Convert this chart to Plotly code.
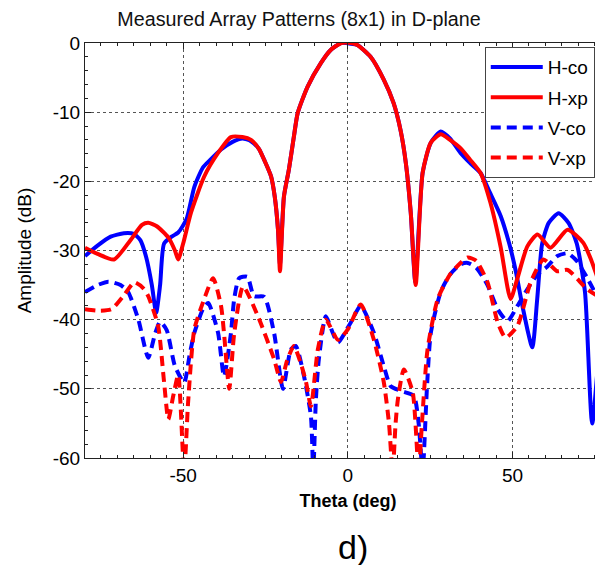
import plotly.graph_objects as go

# ---------------- data ----------------
theta_hco = [-79.8, -76, -72, -68, -65, -63, -61.2, -59.5, -58.2, -57, -55.8, -53.5, -51.5, -49,
             -46.6, -44, -42, -38.5, -35, -32, -29.4, -27, -25.4, -23.3, -22.2, -21.2, -20.6,
             -19.4, -17.9, -16.4, -15.2, -12.2, -8.2, -5.2, -2, 1, 2.9, 6.9, 10.9, 13.9, 16,
             17.6, 19.1, 20.5, 22.7, 25.2, 28.2, 31, 34.2, 37, 40.3, 43, 46.4, 49, 51, 53, 56,
             57.5, 59, 61, 64, 67, 69.5, 72, 74.2, 77.4, 80]
amp_hco = [-30.8, -29.3, -28, -27.5, -27.6, -28.5, -31, -35, -39, -35, -29, -28, -27.4, -25.5,
           -20.8, -18, -17, -15.4, -14.3, -13.8, -14.2, -15.3, -16.9, -19.3, -22.2, -27, -32,
           -22.2, -18.3, -13.6, -10.1, -6.3, -2.9, -1, 0, -0.1, -0.3, -2, -5.3, -8.7, -12.6,
           -17.3, -24.5, -34.6, -18.8, -14.4, -12.8, -13.8, -15.9, -17.3, -18.8, -21.5, -25,
           -29, -33, -38, -44, -37, -29, -26, -24.6, -26, -29, -36, -55, -40, -37]

theta_hxp = [-79.8, -76, -71, -66, -62.5, -60.6, -58, -54.5, -52.5, -51.5, -50, -47.6, -43.6,
             -39.4, -35.5, -32, -29.4, -27, -25.4, -23.3, -22.2, -21.2, -20.6, -19.4, -17.9,
             -16.4, -15.2, -12.2, -8.2, -5.2, -2, 1, 2.9, 6.9, 10.9, 13.9, 16, 17.6, 19.1, 20.6,
             22.7, 25.2, 28.2, 31, 34.2, 37, 40.3, 43.3, 46.4, 49.4, 51.5, 54.5, 57.6, 61.5,
             66.7, 71.5, 74, 77.4, 80]
amp_hxp = [-29.6, -30.5, -31.3, -28.5, -26.3, -26, -26.5, -28.1, -30, -31.3, -29, -24.5, -19.3,
           -15.9, -13.6, -13.6, -14, -15.3, -16.9, -19.3, -22.2, -27, -33, -22.2, -18.3, -13.6,
           -10.1, -6.3, -2.9, -1, 0, 0, -0.3, -2, -5.3, -8.7, -12.6, -17.3, -24.5, -35, -18.8,
           -14.4, -13.2, -14, -15.2, -16.8, -18.8, -23.1, -29.5, -37, -34, -29.4, -27.7, -29.6,
           -27, -28.9, -31.5, -36, -38]

theta_vco = [-79.8, -76, -72.7, -69, -66.7, -63.6, -60.6, -58.5, -57, -55, -52.5, -49.7, -48,
             -46.6, -44, -42.4, -39.4, -37.6, -35.5, -34.5, -33, -30.5, -28.5, -25.4, -22.4,
             -19.7, -17.3, -15.8, -13.3, -11.2, -10.5, -9.7, -8.8, -6.7, -4.5, -3, 0.9, 3.9,
             7.9, 10.9, 13, 16.1, 20, 21.5, 22.7, 24, 25.2, 28.2, 31, 34.2, 36.4, 39, 42.4, 45.5,
             48.5, 51.5, 54.5, 57.5, 60.6, 63.6, 66.7, 69.5, 72.7, 77.4, 80]
amp_vco = [-36, -35, -34.5, -35, -36, -40, -45.5, -42, -40.3, -41.5, -46.7, -49.1, -45, -41.9,
           -38.5, -37.6, -41.9, -48.2, -42, -37, -34, -33.8, -36.6, -36.7, -41.9, -50, -44.3,
           -43.8, -48.2, -54, -62, -51.5, -45.7, -39.5, -42, -43.3, -40.4, -38, -41.9, -46.7,
           -49.6, -50.3, -51, -55, -62, -50, -41.9, -36, -33.5, -32, -31.8, -32.5, -35, -38.5,
           -40.2, -38, -35.6, -33.5, -32.3, -30.8, -30.4, -31.5, -34, -38, -39]

theta_vxp = [-79.8, -76, -71.8, -68, -64.8, -62, -60.6, -57.6, -55.8, -54.5, -53, -51.5, -49.7,
             -48.5, -46.6, -43.6, -40.9, -38.5, -37.6, -36, -34.5, -31.8, -27.3, -22.4, -20.3,
             -18.5, -16.4, -14.5, -12.7, -11.2, -9.1, -6.7, -3, 0, 3.9, 7.9, 10.9, 12.5, 13.6,
             14.5, 15.2, 17, 19.7, 21.5, 22.5, 24.2, 27.3, 31, 34.2, 36.4, 39, 42.4, 45.5, 47.9,
             51.5, 55.5, 59.4, 63.6, 66.7, 72.7, 77.4, 80]
amp_vxp = [-38.5, -38.7, -38.5, -36.5, -34.6, -35.5, -36.6, -40.9, -49, -54.4, -51, -48, -62,
           -52, -41.4, -37, -34, -38, -41.9, -50, -42, -35.2, -39.5, -45.7, -49, -46, -43.8, -46,
           -49, -52.5, -44.3, -40, -42.9, -41.4, -37.8, -42.9, -49, -55, -62, -55, -51.5, -47.2,
           -50.5, -62, -55, -44.3, -37, -33.5, -31.8, -31, -31.5, -34.6, -40.4, -42.6, -40.9,
           -34.6, -31.3, -33, -32.8, -35.6, -37, -37.5]

series_names = ["H-co", "H-xp", "V-co", "V-xp"]
x_tick_vals = [-50, 0, 50]
y_tick_vals = [0, -10, -20, -30, -40, -50, -60]

# ---------------- figure ----------------
FONT = "Liberation Sans, Arial, Helvetica, sans-serif"
BLUE = "#0000FF"
RED = "#FF0000"
DASH = "10px,6px"

fig = go.Figure()
specs = [
    (theta_hco, amp_hco, series_names[0], BLUE, "solid"),
    (theta_hxp, amp_hxp, series_names[1], RED, "solid"),
    (theta_vco, amp_vco, series_names[2], BLUE, DASH),
    (theta_vxp, amp_vxp, series_names[3], RED, DASH),
]
for i, (tx, ay, nm, col, dash) in enumerate(specs):
    fig.add_trace(go.Scatter(
        x=tx, y=ay, name=nm, mode="lines", legendgroup=f"g{i}",
        line=dict(color=col, width=4, dash=dash, shape="spline", smoothing=0.6),
    ))

# page has an 8px body margin: figure is offset by (8, 8)
fig.update_layout(
    width=603, height=565,
    margin=dict(l=77, r=0, t=35, b=115),
    paper_bgcolor="white", plot_bgcolor="white",
    font=dict(family=FONT, size=19, color="black"),
    title=dict(text="Measured Array Patterns (8x1) in D-plane",
               x=291 / 603, xanchor="center", y=1 - 11 / 565, yanchor="middle",
               font=dict(size=19.7, family=FONT, color="#111")),
    showlegend=True,
    legend=dict(x=0.760, y=0.99, xanchor="left", yanchor="top",
                bgcolor="white", bordercolor="#444", borderwidth=1,
                font=dict(size=19, family=FONT), itemwidth=52,
                traceorder="grouped", tracegroupgap=2.5),
    annotations=[dict(text="d)", x=0.5095, y=-0.2145, xref="paper", yref="paper",
                      xanchor="center", yanchor="middle", showarrow=False,
                      font=dict(size=34, family=FONT, color="black"))],
)

fig.update_xaxes(
    range=[-79.8, 79.9], tickvals=x_tick_vals, ticktext=[str(v) for v in x_tick_vals],
    ticks="inside", ticklen=6, tickcolor="#222", tickwidth=1,
    minor=dict(dtick=5, tick0=0, ticks="inside", ticklen=3, tickcolor="#222", showgrid=False),
    showline=True, linecolor="#222", linewidth=1, mirror="ticks",
    showgrid=True, gridcolor="#555", griddash="dot", gridwidth=1, zeroline=False,
    title=dict(text="<b>Theta (deg)</b>", font=dict(size=18, family=FONT), standoff=9),
    tickfont=dict(size=19, family=FONT),
)
fig.update_yaxes(
    range=[-60, 0], tickvals=y_tick_vals, ticktext=[str(v) for v in y_tick_vals],
    ticks="inside", ticklen=6, tickcolor="#222", tickwidth=1,
    minor=dict(dtick=2, tick0=0, ticks="inside", ticklen=3, tickcolor="#222", showgrid=False),
    showline=True, linecolor="#222", linewidth=1, mirror=False,
    showgrid=True, gridcolor="#555", griddash="dot", gridwidth=1, zeroline=False,
    title=dict(text="Amplitude (dB)", font=dict(size=19, family=FONT), standoff=16),
    tickfont=dict(size=19, family=FONT),
)

fig.write_html("out.html")
